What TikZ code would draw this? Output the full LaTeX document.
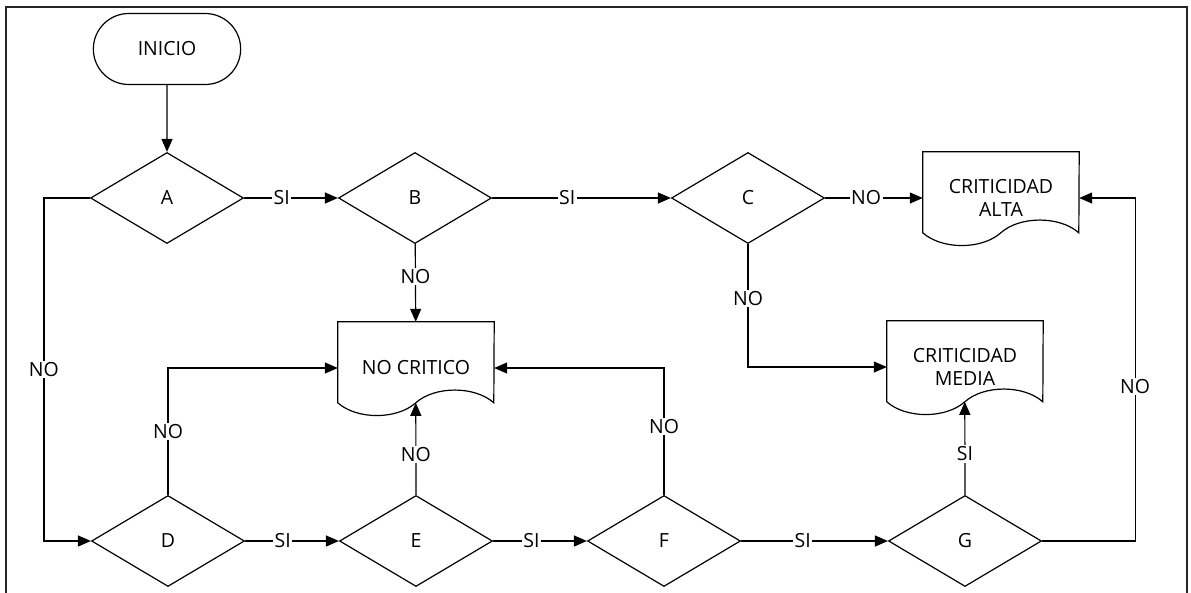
\documentclass[tikz,border=0pt]{standalone}
\usepackage{fontspec}
\setmainfont{Open Sans}
\usetikzlibrary{arrows.meta,%
	shapes.geometric,%
	shapes.misc}
\tikzset{
	decision/.style={draw, diamond, aspect=1.68, minimum width=153pt, minimum height=91pt, inner sep=0pt, line width=1.2pt},
	terminal/.style={draw, rounded rectangle, minimum width=154pt, minimum height=71pt, line width=1.2pt},
	docbox/.style={rectangle, minimum width=156pt, minimum height=92pt, inner sep=0pt, align=center},
	flow/.style={line width=1.2pt, -{Triangle[length=13pt,width=11pt]}},
	lbl/.style={fill=white, inner sep=1.5pt},
}
\newcommand{\Doc}[4]{%
	\node[docbox] (#1) at (#2,#3) {#4};
	\draw[line width=1.2pt] ([shift={(0,81)}]#1.north west) -- (#1.north west) -- (#1.north east) -- ([shift={(156,81)}]#1.north west)
		.. controls ([shift={(137,64)}]#1.north west) and ([shift={(97,64)}]#1.north west) .. ([shift={(78,81)}]#1.north west)
		.. controls ([shift={(59,98)}]#1.north west) and ([shift={(19,98)}]#1.north west) .. ([shift={(0,81)}]#1.north west) -- cycle;
	\coordinate (#1-b) at ([shift={(78,81)}]#1.north west);
}
\begin{document}
\begin{tikzpicture}[x=1pt, y=-1pt, font=\fontsize{19.5}{23.5}\selectfont]
			\useasboundingbox (0,0) rectangle (1191,592);
			\draw[line width=2pt, black!85] (6,600) -- (6,7) -- (1187,7) -- (1187,600);
			\node[terminal] (ini) at (167,49) {INICIO};
			\node[decision] (A) at (167,198) {A};
			\node[decision] (B) at (415,198) {B};
			\node[decision] (C) at (748,198) {C};
			\node[decision] (D) at (168,541) {D};
			\node[decision] (E) at (416,541) {E};
			\node[decision] (F) at (664,541) {F};
			\node[decision] (G) at (965,541) {G};
			\Doc{NC}{416}{368}{NO CRITICO}
			\Doc{CA}{1001}{198}{CRITICIDAD\\ALTA}
			\Doc{CM}{965}{367}{CRITICIDAD\\MEDIA}
			\draw[flow] (ini) -- (A);
			\draw[flow] (A) -- node[lbl, pos=0.4]{SI} (B);
			\draw[flow] (B) -- node[lbl, pos=0.42]{SI} (C);
			\draw[flow] (C) -- node[lbl, pos=0.42]{NO} (CA);
			\draw[flow] (B) -- node[lbl, pos=0.42]{NO} (NC);
			\draw[flow] (C.south) -- node[lbl, pos=0.44]{NO} (C.south |- CM.west) -- (CM.west);
			\draw[flow] (A.west) -- ++(-46,0) coordinate (a1) -- node[lbl]{NO} (a1 |- D.west) -- (D.west);
			\draw[flow] (D) -- node[lbl, pos=0.4]{SI} (E);
			\draw[flow] (E) -- node[lbl, pos=0.41]{SI} (F);
			\draw[flow] (F) -- node[lbl, pos=0.42]{SI} (G);
			\draw[flow] (D.north) -- node[lbl]{NO} (D.north |- NC.west) -- (NC.west);
			\draw[flow] (E.north) -- node[lbl, pos=0.44]{NO} (NC-b);
			\draw[flow] (F.north) -- node[lbl, pos=0.54]{NO} (F.north |- NC.east) -- (NC.east);
			\draw[flow] (G.north) -- node[lbl, pos=0.44]{SI} (CM-b);
			\draw[flow] (G.east) -- ++(93,0) coordinate (g1) -- node[lbl, pos=0.45]{NO} (g1 |- CA.east) -- (CA.east);
\end{tikzpicture}
\end{document}
